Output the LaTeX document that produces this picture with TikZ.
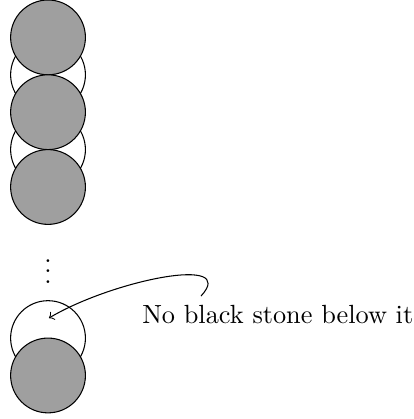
\documentclass[tikz,border=0pt]{standalone}
\begin{document}
\begin{tikzpicture}[
  stone/.style={circle, draw=black, minimum size=1cm, inner sep=0pt},
  blackstone/.style={stone, fill=gray!75},
  whitestone/.style={stone, fill=white},
  lbl/.style={inner sep=0pt, anchor=base west}
]
\useasboundingbox (0,0) rectangle (5.535,-5.602);
% white stones first
\node[whitestone] (w1) at (0.642,-1.0) {};
\node[whitestone] (w2) at (0.642,-2.0) {};
\node[whitestone] (w4) at (0.642,-4.52) {};
% black (gray) stones on top
\node[blackstone] (b1) at (0.642,-0.5) {};
\node[blackstone] (b2) at (0.642,-1.5) {};
\node[blackstone] (b3) at (0.642,-2.5) {};
\node[blackstone] (b4) at (0.642,-5.02) {};
% dots
\node[inner sep=0pt, anchor=base] (dots) at (0.642,-3.79) {\vdots};
% label
\node[lbl] (txt) at (1.895,-4.32) {No black stone below it};
\coordinate (s) at (2.688,-3.958);
\coordinate (tip) at (0.655,-4.252);
\draw[->] (s) .. controls (3.2,-3.4) and (1.5,-3.75) .. (tip);
\end{tikzpicture}
\end{document}
